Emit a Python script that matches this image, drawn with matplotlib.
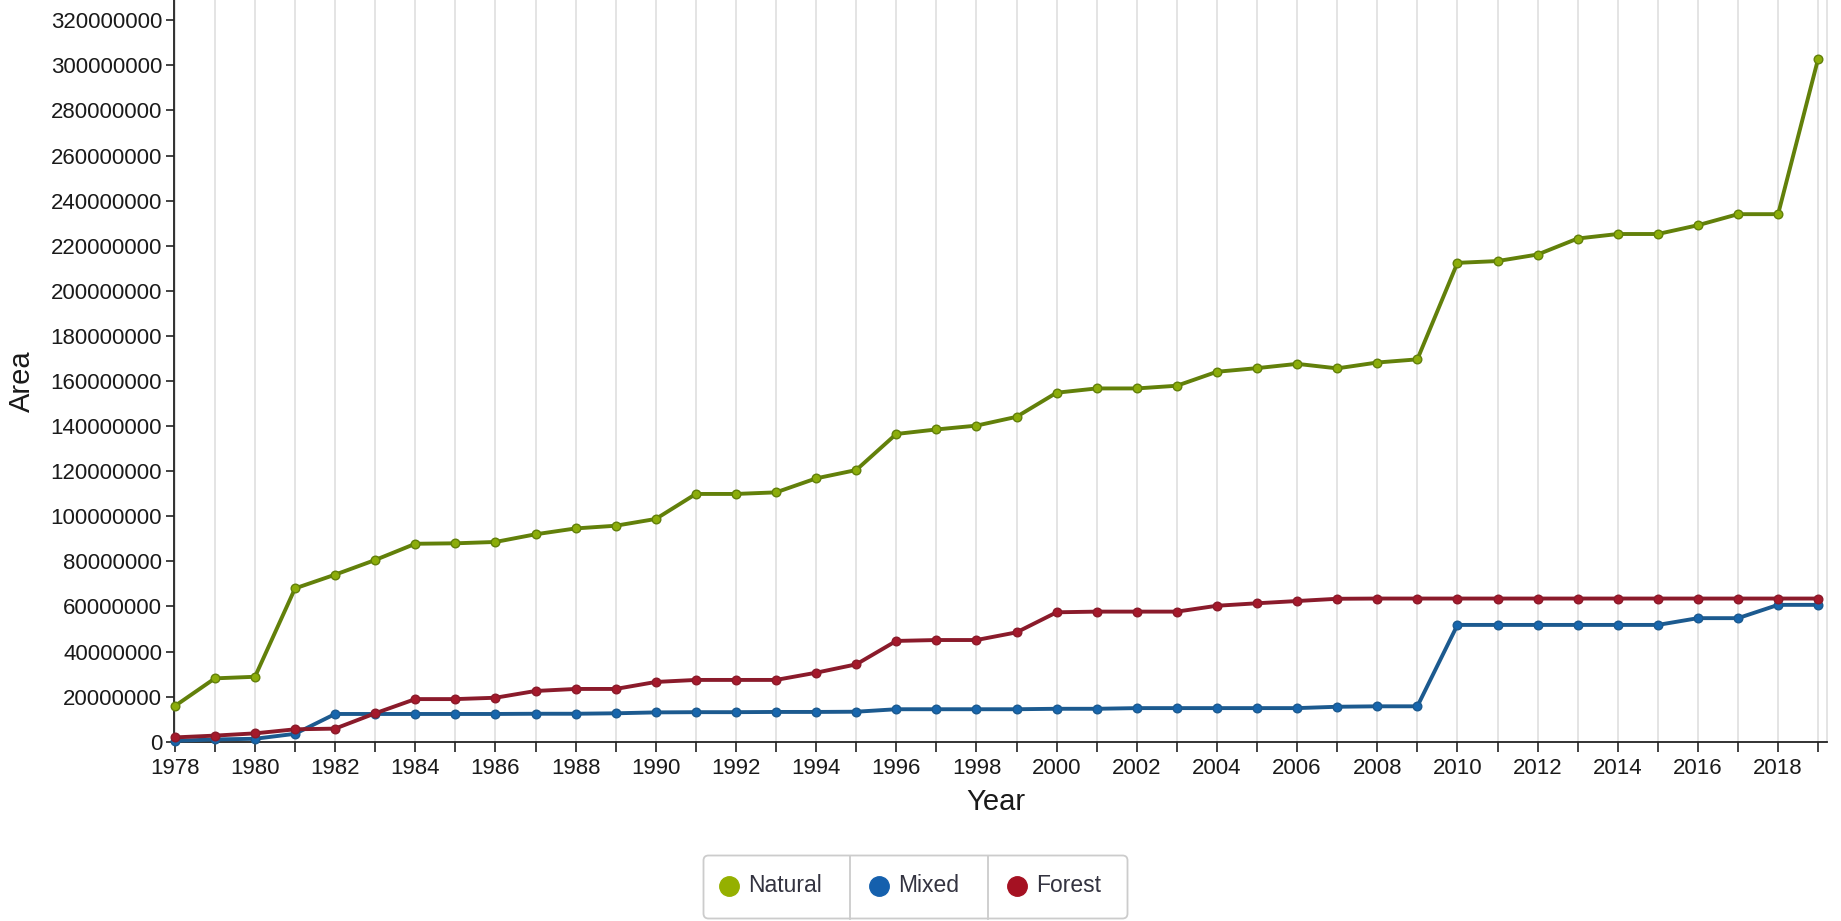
import matplotlib
matplotlib.use("Agg")
import matplotlib.pyplot as plt
from matplotlib.patches import FancyBboxPatch
from matplotlib.ticker import MultipleLocator, FuncFormatter

years = list(range(1978, 2020))

natural = [15.8, 28.1, 28.8, 68.0, 74.1, 80.6, 87.8, 88.0, 88.6, 92.0,
           94.6, 95.8, 98.8, 109.9, 109.9, 110.6, 116.8, 120.5, 136.5, 138.5,
           140.2, 144.1, 154.8, 156.7, 156.7, 157.9, 164.1, 165.7, 167.6, 165.6,
           168.2, 169.6, 212.4, 213.2, 216.1, 223.2, 225.2, 225.2, 229.1, 234.0,
           234.0, 303.0]
mixed = [0.4, 1.0, 1.3, 3.5, 12.3, 12.3, 12.3, 12.3, 12.3, 12.4,
         12.4, 12.6, 13.0, 13.1, 13.1, 13.2, 13.2, 13.3, 14.4, 14.4,
         14.4, 14.4, 14.6, 14.6, 14.9, 14.9, 14.9, 14.9, 14.9, 15.5,
         15.7, 15.7, 51.8, 51.8, 51.8, 51.8, 51.8, 51.8, 54.8, 54.8,
         60.7, 60.7]
forest = [1.9, 2.7, 3.7, 5.5, 5.8, 12.6, 18.9, 18.9, 19.5, 22.5,
          23.4, 23.4, 26.5, 27.4, 27.4, 27.4, 30.6, 34.3, 44.7, 45.1,
          45.1, 48.5, 57.4, 57.7, 57.7, 57.7, 60.3, 61.4, 62.4, 63.4,
          63.5, 63.5, 63.5, 63.5, 63.5, 63.5, 63.5, 63.5, 63.5, 63.5,
          63.5, 63.5]

series_names = ["Natural", "Mixed", "Forest"]
series_values = [natural, mixed, forest]
line_colors = ["#62800a", "#1c5a8f", "#8a1b2b"]
marker_colors = ["#8cad0a", "#1766ad", "#a5192b"]
legend_colors = ["#95b000", "#1560ad", "#a51122"]

plt.rcParams['font.family'] = ['Liberation Sans', 'DejaVu Sans']

W, H = 1841, 921
fig = plt.figure(figsize=(W / 100, H / 100), dpi=100)
ax = fig.add_axes([174 / W, 1 - 741.7 / H, (1827 - 174) / W, 741.7 / H])

for name, vals, lc, mc in zip(series_names, series_values, line_colors, marker_colors):
    ax.plot(years, [v * 1e6 for v in vals], color=lc, lw=2.8, marker='o',
            ms=6.2, mfc=mc, mec=lc, mew=1.0, zorder=3, clip_on=False)

ax.set_xlim(1977.98, 2019.22)
ax.set_ylim(0, 329e6)

ax.xaxis.set_major_locator(MultipleLocator(2))
ax.xaxis.set_minor_locator(MultipleLocator(1))
ax.yaxis.set_major_locator(MultipleLocator(20e6))
ax.yaxis.set_major_formatter(FuncFormatter(lambda v, p: f"{int(round(v))}"))
ax.xaxis.set_major_formatter(FuncFormatter(lambda v, p: f"{int(round(v))}"))

ax.grid(True, axis='x', which='both', color='#dddddd', lw=1.1, zorder=0)
ax.grid(False, axis='y')
ax.set_axisbelow(True)

ax.spines['top'].set_visible(False)
ax.spines['right'].set_color('#dddddd')
ax.spines['right'].set_linewidth(1.1)
ax.spines['left'].set_color('#222222')
ax.spines['bottom'].set_color('#222222')
ax.spines['left'].set_linewidth(1.3)
ax.spines['bottom'].set_linewidth(1.3)

ax.tick_params(axis='x', which='both', direction='out', length=7, width=1.2,
               color='#222222', labelsize=16, labelcolor='#1a1a1a', pad=5)
ax.tick_params(axis='y', which='major', direction='out', length=5.5, width=1.2,
               color='#222222', labelsize=16, labelcolor='#1a1a1a', pad=3)
ax.tick_params(axis='y', which='minor', left=False)

fig.text(22 / W, 1 - 381 / H, "Area", rotation=90, fontsize=21, color='#1a1a1a',
         ha='center', va='center')
fig.text(996 / W, 1 - 802 / H, "Year", fontsize=21, color='#1a1a1a',
         ha='center', va='center')

# custom legend
lx0, ly0, lw_, lh_ = 702, 854, 427, 66
lax = fig.add_axes([lx0 / W, 1 - (ly0 + lh_) / H, lw_ / W, lh_ / H])
lax.set_xlim(0, lw_)
lax.set_ylim(0, lh_)
lax.axis('off')
box = FancyBboxPatch((1.5, 1.5), lw_ - 3, lh_ - 3, boxstyle="round,pad=0,rounding_size=5",
                     fc='white', ec='#cccccc', lw=1.3, clip_on=False)
lax.add_patch(box)
for xd in [148, 286]:
    lax.plot([xd, xd], [1.5, lh_ - 1.5], color='#cccccc', lw=1.3)
mx = [27, 177, 315]
for name, col, x in zip(series_names, legend_colors, mx):
    lax.plot([x], [lh_ - 31.7], marker='o', ms=14, mfc=col, mec=col, ls='none')
    lax.text(x + 19, lh_ - 31.7, name, fontsize=16.5, color='#333340',
             ha='left', va='center')

fig.savefig("out.png", dpi=100, facecolor='white')
